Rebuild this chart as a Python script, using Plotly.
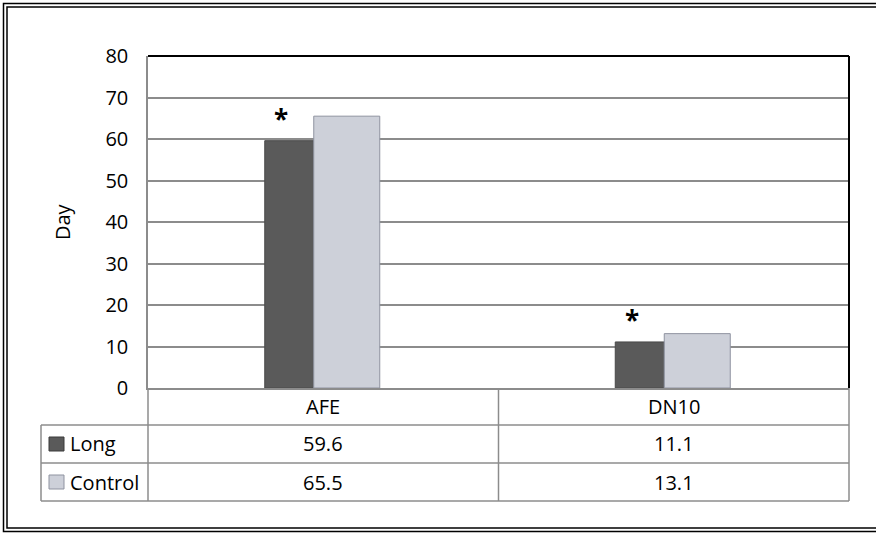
import plotly.graph_objects as go

# ---- data ----
categories = ["AFE", "DN10"]
series_names = ["Long", "Control"]
long_values = [59.6, 11.1]
control_values = [65.5, 13.1]
significant = [True, True]   # asterisk over "Long"
y_ticks = [0, 10, 20, 30, 40, 50, 60, 70, 80]
y_title = "Day"

W, H = 876, 534
L, R, T, B = 148, 27, 56, 146
PW, PH = W - L - R, H - T - B

def px_x(p):
    return (p - L) / PW

def px_y(p):
    return (H - B - p) / PH

FONT = "Open Sans"
FS = 20
GRID = "#8c8c8c"
TABLE = "#8c8c8c"
LONG_C = "#5a5a5a"
CTRL_C = "#cdd0d9"

CAT_PX = PW / len(categories)
BAR_W = 66 / CAT_PX

fig = go.Figure()
fig.add_trace(go.Bar(x=categories, y=long_values, name=series_names[0],
                     width=BAR_W, offset=-58.5 / CAT_PX,
                     marker=dict(color=LONG_C, line=dict(color="#4a4a4a", width=1))))
fig.add_trace(go.Bar(x=categories, y=control_values, name=series_names[1],
                     width=BAR_W, offset=-9.5 / CAT_PX,
                     marker=dict(color=CTRL_C, line=dict(color="#8f93a0", width=1))))

fig.update_layout(
    width=W, height=H,
    margin=dict(l=L, r=R, t=T, b=B),
    paper_bgcolor="white", plot_bgcolor="white",
    barmode="overlay",
    showlegend=False,
    font=dict(family=FONT, size=FS, color="black"),
    xaxis=dict(showticklabels=False, showgrid=False, showline=True,
               linecolor=GRID, linewidth=1.5, zeroline=False, fixedrange=True,
               range=[-0.5, 1.5]),
    yaxis=dict(range=[0, 80], tickvals=y_ticks, showgrid=True, gridcolor=GRID,
               gridwidth=1.5, showline=True, linecolor=GRID, linewidth=1.5,
               zeroline=False, ticks="", ticklabelstandoff=14,
               tickfont=dict(family=FONT, size=FS, color="black")),
)

shapes = []
# plot area top/right border (black)
shapes.append(dict(type="line", xref="paper", yref="paper", x0=0, x1=1, y0=1, y1=1,
                   line=dict(color="black", width=2)))
shapes.append(dict(type="line", xref="paper", yref="paper", x0=1, x1=1, y0=0, y1=1,
                   line=dict(color="black", width=2)))

# data table grid
def hline(y, x0, x1):
    shapes.append(dict(type="line", xref="paper", yref="paper",
                       x0=px_x(x0), x1=px_x(x1), y0=px_y(y), y1=px_y(y),
                       line=dict(color=TABLE, width=1.5)))

def vline(x, y0, y1):
    shapes.append(dict(type="line", xref="paper", yref="paper",
                       x0=px_x(x), x1=px_x(x), y0=px_y(y0), y1=px_y(y1),
                       line=dict(color=TABLE, width=1.5)))

hline(425, 41, 849)
hline(463, 41, 849)
hline(501, 41, 849)
vline(41, 425, 501)
vline(148, 388, 501)
vline(498.5, 388, 501)
vline(849, 388, 501)

# outer double frame
for off, w in [(3.5, 1.5), (7, 1.5)]:
    shapes.append(dict(type="rect", xref="paper", yref="paper",
                       x0=px_x(off), x1=px_x(W + 10), y0=px_y(H - off + 1), y1=px_y(off),
                       line=dict(color="black", width=w), fillcolor="rgba(0,0,0,0)"))

# legend keys in table
key_colors = [LONG_C, CTRL_C]
key_lines = ["#3a3a3a", "#8f93a0"]
row_centers = [444, 482]
for i, yc in enumerate(row_centers):
    shapes.append(dict(type="rect", xref="paper", yref="paper",
                       x0=px_x(49), x1=px_x(64), y0=px_y(yc - 7), y1=px_y(yc + 7),
                       fillcolor=key_colors[i], line=dict(color=key_lines[i], width=1)))

annotations = []
# category row
for c in categories:
    annotations.append(dict(x=c, y=px_y(406.5), xref="x", yref="paper", text=c,
                            xanchor="center", yanchor="middle",
                            showarrow=False, font=dict(size=FS, family=FONT)))
# series rows
for i, (name, vals) in enumerate(zip(series_names, [long_values, control_values])):
    yc = row_centers[i]
    annotations.append(dict(x=px_x(68), y=px_y(yc), xref="paper", yref="paper",
                            text=name, xanchor="left", yanchor="middle", showarrow=False,
                            font=dict(size=FS, family=FONT)))
    for c, v in zip(categories, vals):
        annotations.append(dict(x=c, y=px_y(yc), xref="x", yref="paper",
                                text=f"{v}", showarrow=False,
                                xanchor="center", yanchor="middle",
                                font=dict(size=FS, family=FONT)))
# asterisks
for c, v, s in zip(categories, long_values, significant):
    if s:
        annotations.append(dict(x=c, y=v, xref="x", yref="y", text="<b>*</b>",
                                showarrow=False, xanchor="center", yanchor="bottom",
                                xshift=-42, yshift=2,
                                font=dict(size=26, family=FONT)))
# y title
annotations.append(dict(x=px_x(62), y=0.5, xref="paper", yref="paper", text=y_title,
                        xanchor="center", yanchor="middle",
                        textangle=-90, showarrow=False, font=dict(size=FS, family=FONT)))

fig.update_layout(shapes=shapes, annotations=annotations)
fig.write_html("out.html")
